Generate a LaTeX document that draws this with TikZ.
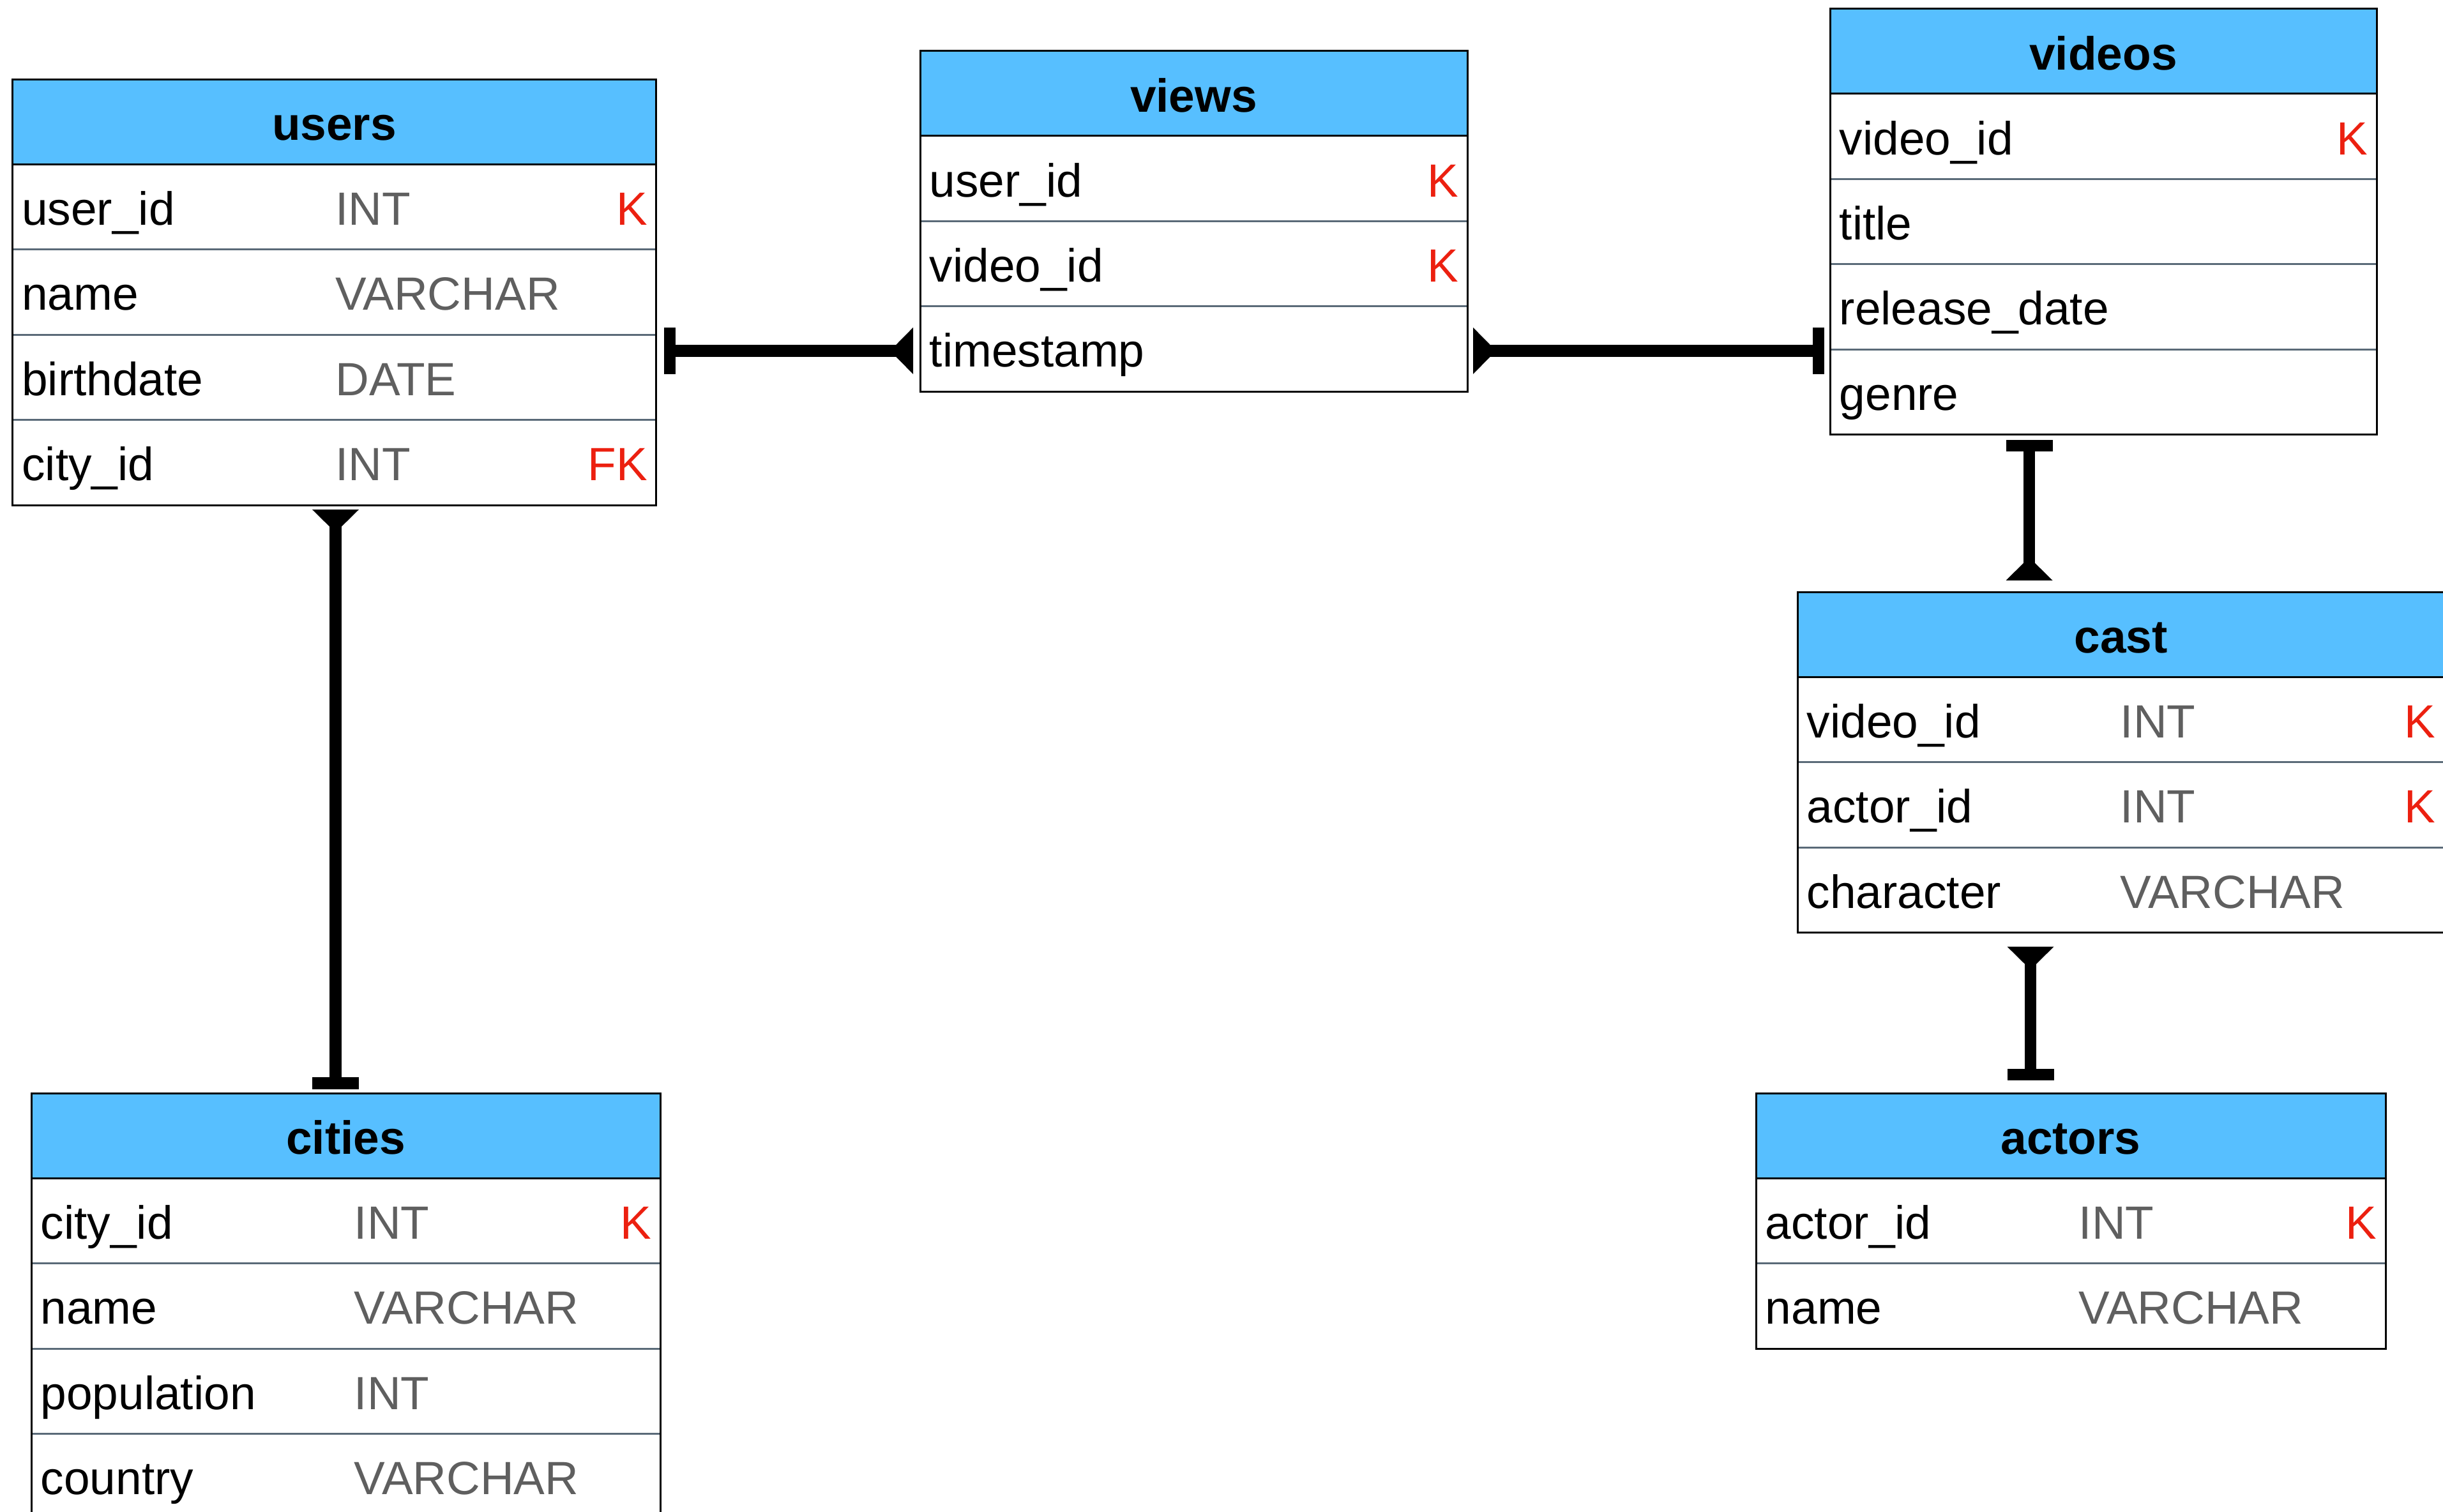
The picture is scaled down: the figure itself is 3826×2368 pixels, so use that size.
\documentclass[tikz,border=0pt]{standalone}
\usepackage{fontspec}
\setmainfont{Liberation Sans}
\usetikzlibrary{calc}
\definecolor{erdblue}{RGB}{87,191,255}
\definecolor{erdgray}{RGB}{95,95,95}
\definecolor{erdred}{RGB}{236,32,16}
\definecolor{erdsepc}{RGB}{90,106,120}
\newcommand\erdfont{\fontsize{18.25pt}{22pt}\selectfont}
\newcommand\erdfontb{\fontsize{18.25pt}{22pt}\selectfont\bfseries}
\tikzset{
  erdbase/.style={inner sep=0pt, outer sep=0pt, minimum height=133.4*0.25pt},
  erdheadbox/.style={erdbase, fill=erdblue, draw=black, line width=0.75pt, font=\erdfontb, text height=14.5pt, text depth=0pt},
  erdframebox/.style={inner sep=0pt, outer sep=0pt, draw=black, line width=0.75pt},
  erdfield/.style={inner sep=0pt, anchor=base west, font=\erdfont, text=black},
  erdtype/.style={inner sep=0pt, anchor=base west, font=\erdfont, text=erdgray},
  erdkey/.style={inner sep=0pt, anchor=base east, font=\erdfont, text=erdred},
  erdsep/.style={draw=erdsepc, line width=0.75pt},
  erdconn/.style={line width=4.6pt, draw=black},
}
\newcommand\erdhead[5]{% name, x, y, width, title
  \def\erdw{#4}%
  \node[erdheadbox, minimum width=#4*0.25pt, anchor=north west] (#1-r0) at (#2,#3) {#5};}
\newcommand\erdrow[5]{% name, index, field, type, key
  \pgfmathtruncatemacro\erdprev{#2-1}%
  \node[erdbase, minimum width=\erdw*0.25pt, anchor=north west] (#1-r#2) at (#1-r\erdprev.south west) {};
  \ifnum#2>1 \draw[erdsep] (#1-r#2.north west) -- (#1-r#2.north east);\fi
  \node[erdfield] (#1-f#2) at ($(#1-r#2.west)+(14,28.4)$) {#3};
  \node[erdtype] (#1-t#2) at ($(#1-r#2.west)+(505,28.4)$) {#4};
  \node[erdkey] (#1-k#2) at ($(#1-r#2.east)+(-13,28.4)$) {#5};}
\newcommand\erdframe[2]{% name, nrows
  \node[erdframebox, minimum width=\erdw*0.25pt, minimum height={(#2+1)*133.4*0.25pt}, anchor=north west] (#1) at (#1-r0.north west) {};}
\begin{document}
\begin{tikzpicture}[x=0.25pt,y=-0.25pt]
\fill[white] (0,0) rectangle (3826,2368);
\useasboundingbox (0,0) rectangle (3826,2368);

% users
\erdhead{users}{19.5}{124}{1008}{users}
\erdrow{users}{1}{user\_id}{INT}{K}
\erdrow{users}{2}{name}{VARCHAR}{}
\erdrow{users}{3}{birthdate}{DATE}{}
\erdrow{users}{4}{city\_id}{INT}{FK}
\erdframe{users}{4}

% views
\erdhead{views}{1441}{79.5}{857}{views}
\erdrow{views}{1}{user\_id}{}{K}
\erdrow{views}{2}{video\_id}{}{K}
\erdrow{views}{3}{timestamp}{}{}
\erdframe{views}{3}

% videos
\erdhead{videos}{2866}{13.5}{856}{videos}
\erdrow{videos}{1}{video\_id}{}{K}
\erdrow{videos}{2}{title}{}{}
\erdrow{videos}{3}{release\_date}{}{}
\erdrow{videos}{4}{genre}{}{}
\erdframe{videos}{4}

% cast
\erdhead{cast}{2815}{927}{1013}{cast}
\erdrow{cast}{1}{video\_id}{INT}{K}
\erdrow{cast}{2}{actor\_id}{INT}{K}
\erdrow{cast}{3}{character}{VARCHAR}{}
\erdframe{cast}{3}

% actors
\erdhead{actors}{2750}{1712}{986}{actors}
\erdrow{actors}{1}{actor\_id}{INT}{K}
\erdrow{actors}{2}{name}{VARCHAR}{}
\erdframe{actors}{2}

% cities
\erdhead{cities}{49}{1712}{985}{cities}
\erdrow{cities}{1}{city\_id}{INT}{K}
\erdrow{cities}{2}{name}{VARCHAR}{}
\erdrow{cities}{3}{population}{INT}{}
\erdrow{cities}{4}{country}{VARCHAR}{}
\erdframe{cities}{4}

% users -- views
\draw[erdconn] ($(users.east |- views-r3.west)+(30,3)$) -- ($(views-r3.west)+(-30,3)$);
\fill ($(users.east |- views-r3.west)+(12,3-36.5)$) rectangle ++(18,73);
\fill ($(views-r3.west)+(-11,3-36.5)$) -- ++(0,73) -- ++(-36,-36.5) -- cycle;

% views -- videos
\draw[erdconn] ($(views-r3.east)+(30,3)$) -- ($(videos.west |- views-r3.east)+(-27,3)$);
\fill ($(views-r3.east)+(9,3-36.5)$) -- ++(0,73) -- ++(36,-36.5) -- cycle;
\fill ($(videos.west |- views-r3.east)+(-27,3-36.5)$) rectangle ++(18,73);

% users -- cities
\draw[erdconn] ($(users.south)+(2,30)$) -- ($(cities.north -| users.south)+(2,-25)$);
\fill ($(users.south)+(2-36.5,7)$) -- ++(73,0) -- ++(-36.5,36) -- cycle;
\fill ($(cities.north -| users.south)+(2-36.5,-25)$) rectangle ++(73,19);

% videos -- cast
\draw[erdconn] ($(videos.south west)+(312,20)$) -- ($(cast.north -| videos.south west)+(312,-40)$);
\fill ($(videos.south west)+(312-36.5,8)$) rectangle ++(73,18);
\fill ($(cast.north -| videos.south west)+(312-36.5,-18)$) -- ++(73,0) -- ++(-36.5,-36) -- cycle;

% cast -- actors
\draw[erdconn] ($(cast.south west)+(365,40)$) -- ($(actors.north -| cast.south west)+(365,-30)$);
\fill ($(cast.south west)+(365-36.5,22)$) -- ++(73,0) -- ++(-36.5,36) -- cycle;
\fill ($(actors.north -| cast.south west)+(365-36.5,-38)$) rectangle ++(73,18);
\end{tikzpicture}
\end{document}
